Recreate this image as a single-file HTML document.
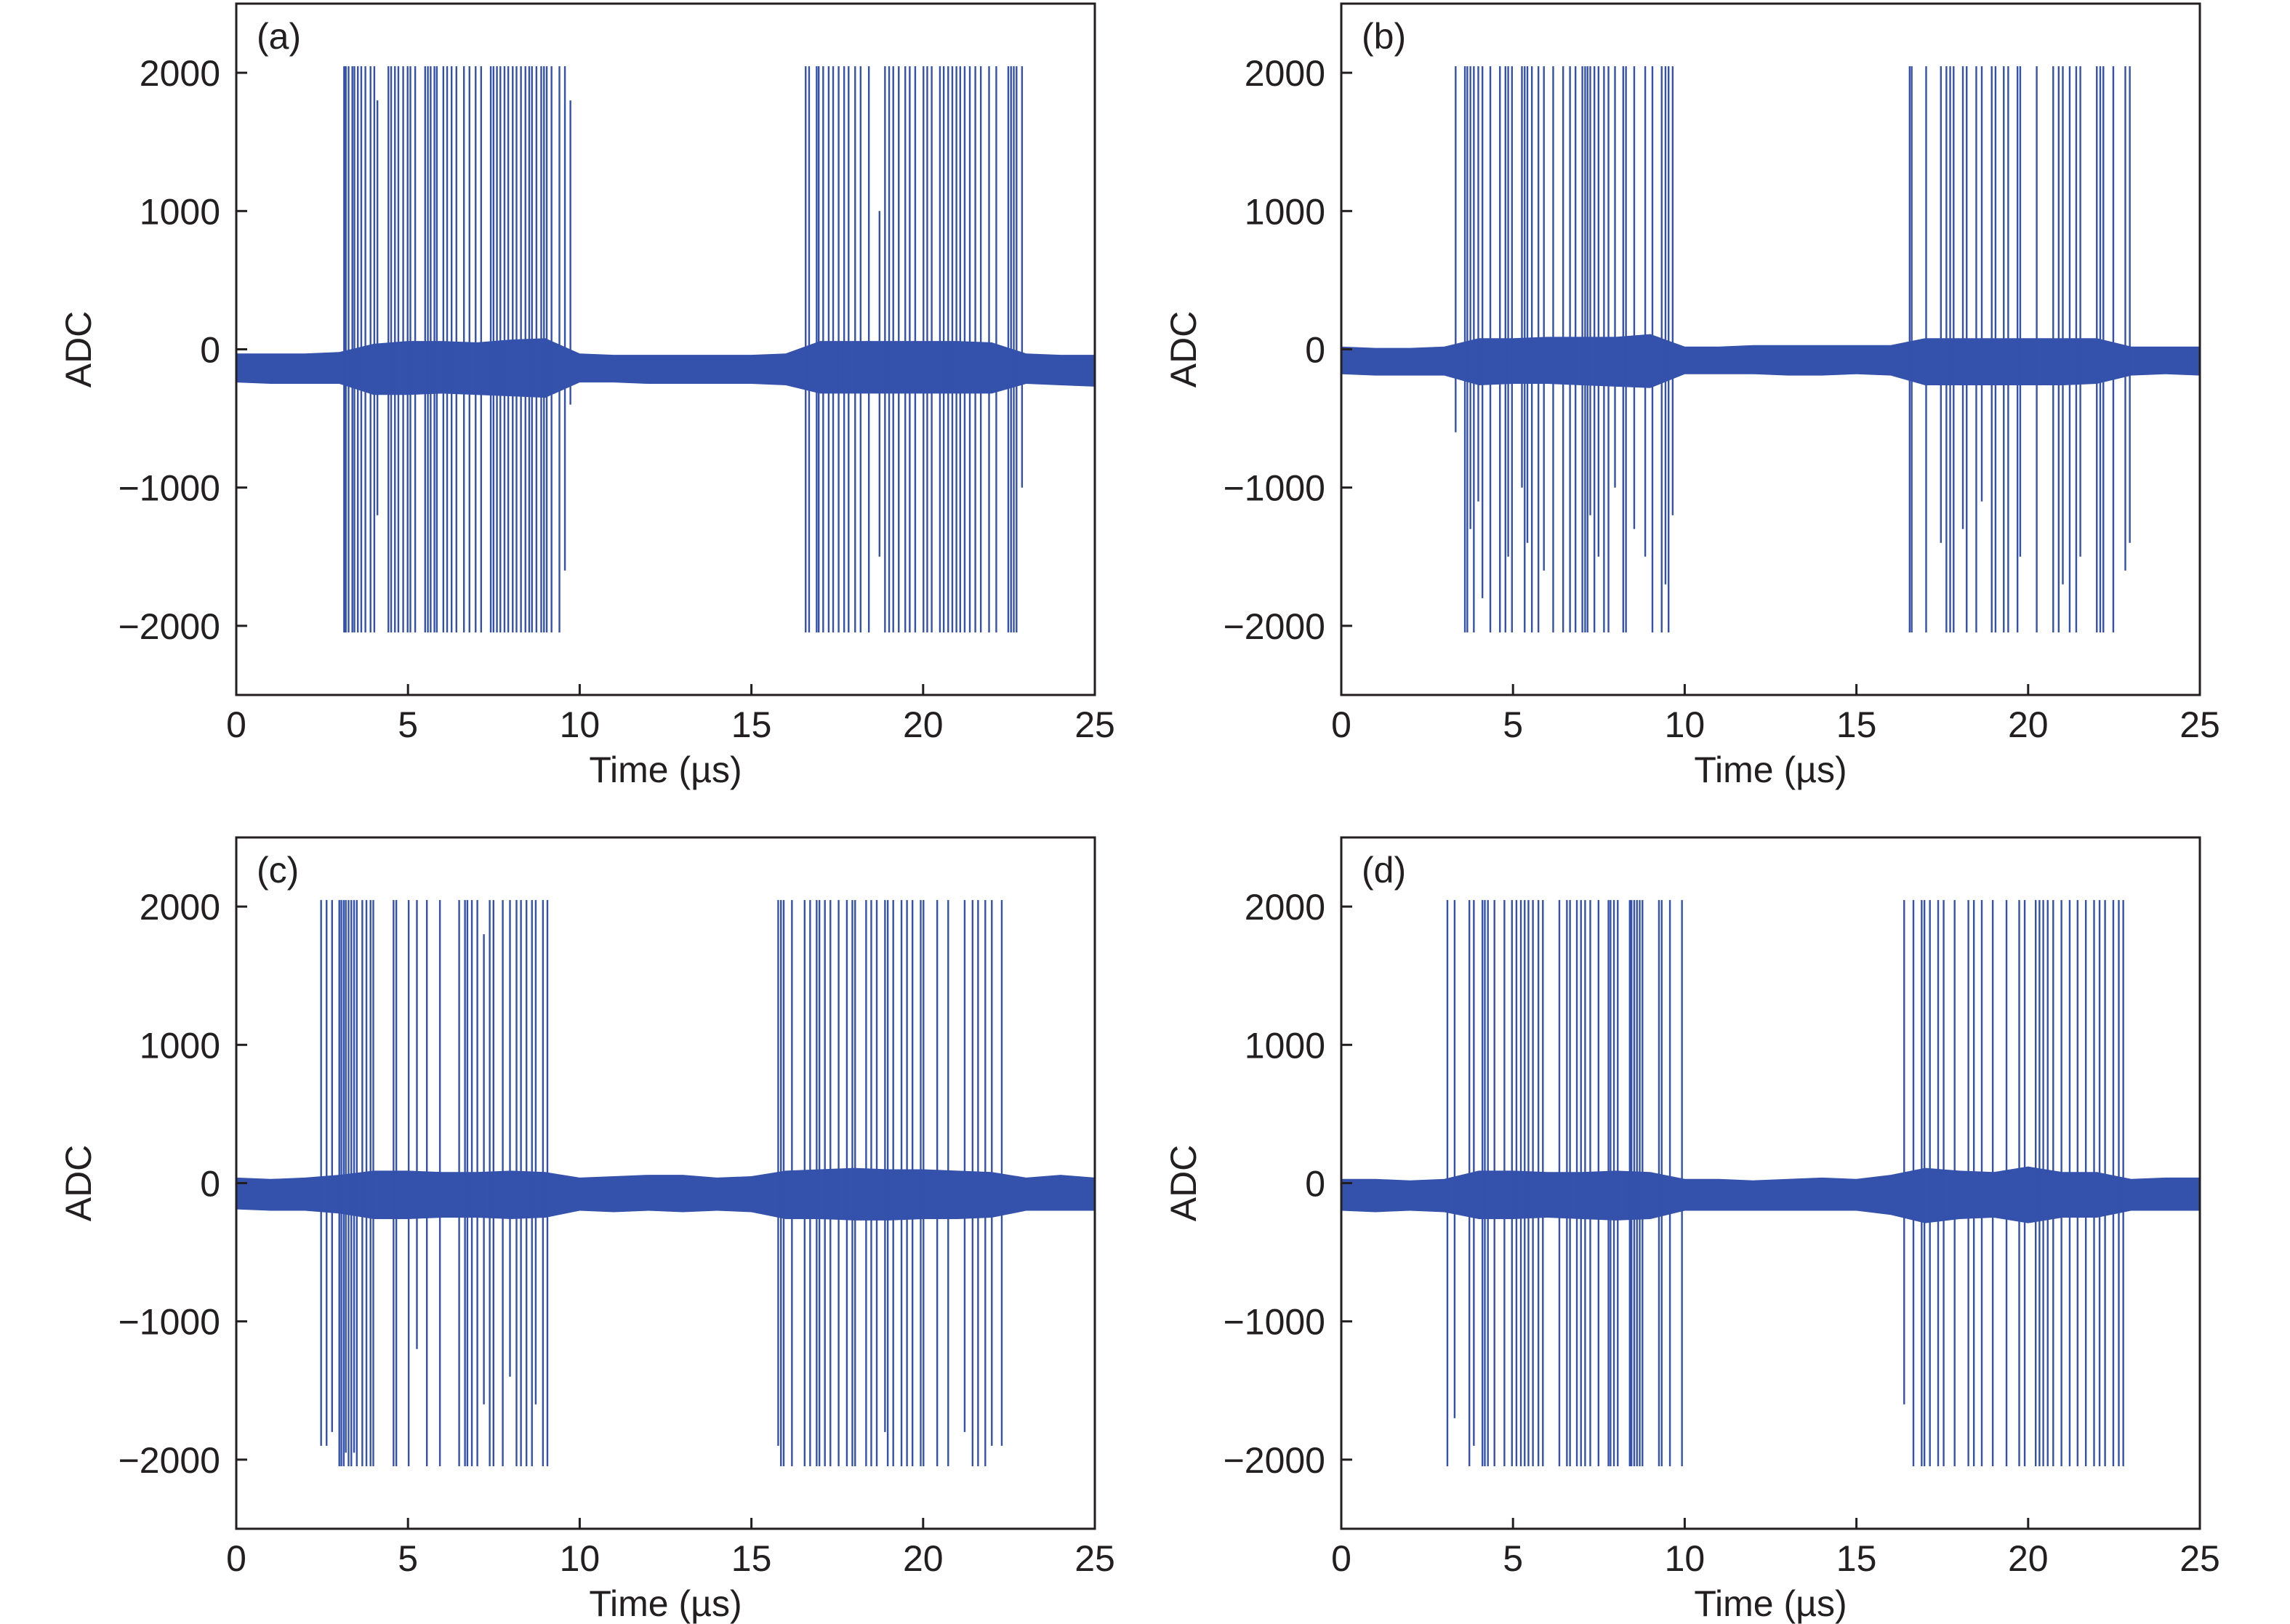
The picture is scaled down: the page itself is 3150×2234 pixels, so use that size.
<!DOCTYPE html>
<html><head><meta charset="utf-8"><style>
html,body{margin:0;padding:0;background:#fff;}
svg{display:block;font-family:"Liberation Sans",sans-serif;}
</style></head><body>
<svg id="fig" width="3150" height="2234" viewBox="0 0 3150 2234" xmlns="http://www.w3.org/2000/svg"></svg>
<script>
const H = 2047, L = -2048;
const xTicks = [0, 5, 10, 15, 20, 25];
const yTicks = [2000, 1000, 0, -1000, -2000];
const yTickLabels = ["2000", "1000", "0", "\u22121000", "\u22122000"];
const panelLabels = ["(a)", "(b)", "(c)", "(d)"];
const envT = [0,1,2,3,4,5,6,7,8,9,10,11,12,13,14,15,16,17,18,19,20,21,22,23,24,25];

const aSpikeT = [3.14,3.19,3.27,3.38,3.44,3.54,3.64,3.76,3.91,4.02,4.11,4.43,4.51,4.62,4.72,4.86,4.99,5.07,5.21,5.50,5.58,5.66,5.77,5.84,6.03,6.14,6.27,6.41,6.63,6.79,6.97,7.13,7.41,7.49,7.59,7.69,7.81,7.92,8.05,8.16,8.29,8.42,8.53,8.61,8.74,8.88,8.96,9.04,9.18,9.41,9.57,9.73,
16.58,16.68,16.90,16.96,17.09,17.25,17.38,17.54,17.70,17.83,18.02,18.18,18.42,18.73,18.89,19.01,19.13,19.29,19.48,19.61,19.77,20.01,20.12,20.25,20.49,20.60,20.73,20.85,20.97,21.08,21.21,21.36,21.52,21.68,21.92,22.13,22.48,22.56,22.64,22.72,22.88];
const aSpikeHi = [H,H,H,H,H,H,H,H,H,H,1800,H,H,H,H,H,H,H,H,H,H,H,H,H,H,H,H,H,H,H,H,H,H,H,H,H,H,H,H,H,H,H,H,H,H,H,H,H,H,H,H,1800,
H,H,H,H,H,H,H,H,H,H,H,H,H,1000,H,H,H,H,H,H,H,H,H,H,H,H,H,H,H,H,H,H,H,H,H,H,H,H,H,H,H];
const aSpikeLo = [L,L,L,L,L,L,L,L,L,L,-1200,L,L,L,L,L,L,L,L,L,L,L,L,L,L,L,L,L,L,L,L,L,L,L,L,L,L,L,L,L,L,L,L,L,L,L,L,L,L,L,-1600,-400,
L,L,L,L,L,L,L,L,L,L,L,L,L,-1500,L,L,L,L,L,L,L,L,L,L,L,L,L,L,L,L,L,L,L,L,L,L,L,L,L,L,-1000];
const aUpper = [-30,-30,-30,-20,40,60,60,50,70,80,-30,-40,-40,-40,-40,-40,-30,60,60,60,60,60,50,-30,-40,-40];
const aLower = [-240,-250,-250,-250,-330,-330,-320,-330,-340,-350,-240,-240,-250,-250,-250,-250,-260,-320,-320,-320,-320,-320,-320,-250,-260,-270];

const bSpikeT = [3.33,3.60,3.67,3.76,3.86,3.99,4.11,4.34,4.62,4.78,4.86,4.97,5.26,5.34,5.42,5.55,5.74,5.90,6.17,6.46,6.66,6.82,7.02,7.10,7.17,7.25,7.37,7.49,7.65,7.78,7.97,8.21,8.29,8.53,8.85,9.06,9.33,9.44,9.53,9.65,
16.55,16.61,17.03,17.46,17.62,17.73,17.83,18.10,18.21,18.49,18.65,18.94,19.05,19.29,19.42,19.69,19.77,20.25,20.73,20.89,21.01,21.21,21.40,21.52,22.00,22.10,22.19,22.48,22.83,22.96];
const bSpikeHi = [H,H,H,H,H,H,H,H,H,H,H,H,H,H,H,H,H,H,H,H,H,H,H,H,H,H,H,H,H,H,H,H,H,H,H,H,H,H,H,H,
H,H,H,H,H,H,H,H,H,H,H,H,H,H,H,H,H,H,H,H,H,H,H,H,H,H,H,H,H,H];
const bSpikeLo = [-600,L,L,-1300,L,-1100,-1800,L,L,L,-1500,L,-1000,L,-1400,L,L,-1600,L,L,L,L,L,L,L,-1200,L,-1500,L,L,-1000,L,L,-1300,-1500,L,L,-1700,L,-1200,
L,L,L,-1400,L,L,L,-1300,L,L,-1100,L,L,L,L,L,-1500,L,L,L,-1700,L,L,-1500,L,L,L,L,-1600,-1400];
const bUpper = [20,10,10,20,80,80,90,90,90,110,20,20,30,30,30,30,30,80,80,80,80,80,80,20,20,20];
const bLower = [-180,-190,-190,-190,-260,-250,-250,-260,-270,-280,-180,-180,-180,-190,-190,-180,-190,-260,-260,-260,-260,-260,-250,-190,-180,-190];

const cSpikeT = [2.47,2.63,2.79,3.00,3.06,3.13,3.19,3.27,3.35,3.43,3.51,3.67,3.79,3.91,3.99,4.58,4.66,5.02,5.26,5.55,5.93,6.49,6.66,6.73,6.86,7.02,7.21,7.38,7.49,7.76,7.97,8.16,8.29,8.45,8.61,8.72,8.93,9.06,
15.78,15.86,15.94,16.18,16.55,16.71,16.90,16.98,17.14,17.30,17.54,17.78,17.94,18.02,18.34,18.49,18.65,18.89,18.97,19.13,19.37,19.53,19.69,19.93,20.01,20.41,20.73,21.21,21.44,21.60,21.81,22.00,22.29];
const cSpikeHi = [H,H,H,H,H,H,H,H,H,H,H,H,H,H,H,H,H,H,H,H,H,H,H,H,H,H,1800,H,H,H,H,H,H,H,H,H,H,H,
H,H,H,H,H,H,H,H,H,H,H,H,H,H,H,H,H,H,H,H,H,H,H,H,H,H,H,H,H,H,H,H,H];
const cSpikeLo = [-1900,-1900,-1800,L,L,L,-1950,L,L,-1950,L,L,L,L,L,L,L,L,-1200,L,L,L,L,L,L,L,-1600,L,L,L,-1400,L,L,L,L,-1600,L,L,
-1900,L,L,L,L,L,L,L,L,L,L,L,L,L,L,L,L,-1800,L,L,L,L,L,L,L,L,L,-1800,L,L,L,-1900,-1900];
const cUpper = [40,30,40,60,90,90,80,80,90,80,40,50,60,60,40,50,90,100,110,100,100,90,80,40,60,40];
const cLower = [-190,-200,-200,-220,-260,-260,-250,-250,-260,-250,-200,-210,-200,-210,-200,-210,-260,-260,-270,-270,-260,-260,-250,-200,-200,-200];

const dSpikeT = [3.09,3.30,3.73,3.86,4.11,4.18,4.27,4.46,4.75,4.97,5.10,5.23,5.34,5.45,5.58,5.74,5.87,6.35,6.57,6.66,6.86,6.98,7.10,7.25,7.49,7.78,7.84,7.94,8.05,8.40,8.45,8.53,8.61,8.69,8.77,9.25,9.33,9.57,9.92,
16.39,16.66,16.90,16.98,17.14,17.38,17.54,17.86,18.26,18.42,18.65,18.97,19.37,19.74,19.90,20.22,20.33,20.44,20.57,20.73,20.97,21.21,21.44,21.68,21.92,22.08,22.24,22.48,22.64,22.77];
const dSpikeHi = [H,H,H,H,H,H,H,H,H,H,H,H,H,H,H,H,H,H,H,H,H,H,H,H,H,H,H,H,H,H,H,H,H,H,H,H,H,H,H,
H,H,H,H,H,H,H,H,H,H,H,H,H,H,H,H,H,H,H,H,H,H,H,H,H,H,H,H,H,H];
const dSpikeLo = [L,-1700,L,-1900,L,L,L,L,L,L,L,L,L,L,L,L,L,L,L,L,L,L,L,L,L,L,L,L,L,L,L,L,L,L,L,L,L,L,L,
-1600,L,L,L,L,L,L,L,L,L,L,L,L,L,L,L,L,L,L,L,L,L,L,L,L,L,L,L,L,L];
const dUpper = [30,30,20,30,90,90,80,80,90,80,30,30,20,30,40,30,60,110,90,80,120,80,80,30,40,40];
const dLower = [-200,-210,-200,-210,-260,-260,-250,-260,-270,-260,-200,-200,-200,-200,-200,-200,-230,-290,-260,-250,-290,-250,-250,-200,-200,-200];

const panels = [
  {x0:325, y0:5, t:aSpikeT, hi:aSpikeHi, lo:aSpikeLo, up:aUpper, dn:aLower},
  {x0:1845, y0:5, t:bSpikeT, hi:bSpikeHi, lo:bSpikeLo, up:bUpper, dn:bLower},
  {x0:325, y0:1152, t:cSpikeT, hi:cSpikeHi, lo:cSpikeLo, up:cUpper, dn:cLower},
  {x0:1845, y0:1152, t:dSpikeT, hi:dSpikeHi, lo:dSpikeLo, up:dUpper, dn:dLower}
];
const PW = 1181, PH = 951, COLOR = "#3451ab";
const NS = "http://www.w3.org/2000/svg";
const svg = document.getElementById("fig");
function mk(tag, attrs, parent){ const e=document.createElementNS(NS,tag); for(const k in attrs) e.setAttribute(k,attrs[k]); parent.appendChild(e); return e; }

panels.forEach((p, i) => {
  const xs = t => p.x0 + t/25*PW;
  const ys = v => p.y0 + PH/2 - v/5000*PH;
  const g = mk("g", {}, svg);
  
  
  let pts = envT.map((t,k)=> xs(t)+","+ys(p.up[k]));
  for (let k=envT.length-1;k>=0;k--) pts.push(xs(envT[k])+","+ys(p.dn[k]));
  const band = mk("polygon", {points: pts.join(" "), fill: COLOR}, g);
  
  
  p.t.forEach((t,k)=>{
    const s = mk("line", {x1:xs(t), x2:xs(t), y1:ys(p.hi[k]), y2:ys(p.lo[k]), stroke:COLOR, "stroke-width":2.4}, g);
    
    
  });
  const fr = mk("rect", {x:p.x0, y:p.y0, width:PW, height:PH, fill:"none", stroke:"#231f20", "stroke-width":3}, g);
  
  
  xTicks.forEach(t=>{
    const tk = mk("line", {x1:xs(t), x2:xs(t), y1:p.y0+PH, y2:p.y0+PH-15, stroke:"#231f20", "stroke-width":3}, g);
    
    
    const tl = mk("text", {x:xs(t), y:p.y0+PH+58, "font-size":50, "text-anchor":"middle", fill:"#231f20"}, g);
    tl.textContent = t;
    
    
  });
  yTicks.forEach((v,k)=>{
    const tk = mk("line", {x1:p.x0, x2:p.x0+15, y1:ys(v), y2:ys(v), stroke:"#231f20", "stroke-width":3}, g);
    
    
    const tl = mk("text", {x:p.x0-22, y:ys(v)+18, "font-size":50, "text-anchor":"end", fill:"#231f20"}, g);
    tl.textContent = yTickLabels[k];
    
    
  });
  const xt = mk("text", {x:p.x0+PW/2, y:p.y0+PH+120, "font-size":50, "text-anchor":"middle", fill:"#231f20"}, g);
  xt.textContent = "Time (\u00b5s)";
  
  
  const yt = mk("text", {x:0, y:0, "font-size":50, "text-anchor":"middle", fill:"#231f20", transform:`translate(${p.x0-200},${p.y0+PH/2}) rotate(-90)`}, g);
  yt.textContent = "ADC";
  
  
  const pl = mk("text", {x:p.x0+28, y:p.y0+62, "font-size":50, fill:"#231f20"}, g);
  pl.textContent = panelLabels[i];
  
  
});
</script>
</body></html>
